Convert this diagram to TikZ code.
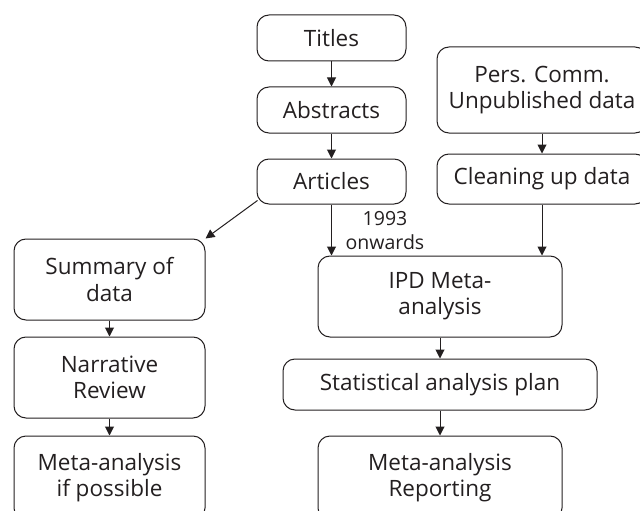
\documentclass[tikz,border=0pt]{standalone}
\usepackage{fontspec}
\setmainfont{Open Sans}
\usetikzlibrary{arrows.meta}
\definecolor{ink}{HTML}{231F20}
\begin{document}
\begin{tikzpicture}[x=1pt,y=-1pt,
  box/.style={draw=ink, line width=1pt, rounded corners=12pt, align=center,
    text=ink, font=\fontsize{22.5}{26}\selectfont, inner sep=0pt},
  arr/.style={draw=ink, line width=1pt, -{Triangle[width=9pt,length=9pt]}},
  lab/.style={text=ink, font=\fontsize{19.5}{24}\selectfont, align=center, inner sep=0pt}]
\useasboundingbox (0,0) rectangle (640,511);
\clip (0,0) rectangle (640,511);
\node[box, minimum width=149pt, minimum height=46pt] (titles) at (331.5,38) {Titles};
\node[box, minimum width=149pt, minimum height=46pt] (abstracts) at (331.5,110) {Abstracts};
\node[box, minimum width=149pt, minimum height=45pt] (articles) at (331.5,181.5) {Articles};
\node[box, minimum width=210pt, minimum height=86pt] (pers) at (542,90) {Pers. Comm.\\Unpublished data};
\node[box, minimum width=210pt, minimum height=50pt] (cleaning) at (542,179) {Cleaning up data};
\node[box, minimum width=191pt, minimum height=81pt] (summary) at (109.5,279.5) {Summary of\\data};
\node[box, minimum width=244pt, minimum height=81pt] (ipd) at (440,296.5) {IPD Meta-\\analysis};
\node[box, minimum width=191pt, minimum height=81pt] (narrative) at (109.5,377.5) {Narrative\\Review};
\node[box, minimum width=314pt, minimum height=51pt] (stat) at (440,384.5) {Statistical analysis plan};
\node[box, minimum width=191pt, minimum height=84pt] (metaif) at (109.5,478) {Meta-analysis\\if possible};
\node[box, minimum width=244pt, minimum height=84pt] (metarep) at (440,478) {Meta-analysis\\Reporting};
\node[lab] (yr) at (385,231) {1993\\onwards};
\draw[arr] (titles) -- (abstracts);
\draw[arr] (abstracts) -- (articles);
\draw[arr] (pers) -- (cleaning);
\draw[arr] (articles.south west) ++(1,-4) coordinate (a1) (a1) -- (summary.north east);
\draw[arr] (articles.south) -- (articles.south |- ipd.north);
\draw[arr] (cleaning.south) -- (cleaning.south |- ipd.north);
\draw[arr] (summary) -- (narrative);
\draw[arr] (narrative) -- (metaif);
\draw[arr] (ipd) -- (stat);
\draw[arr] (stat) -- (metarep);
\end{tikzpicture}
\end{document}
